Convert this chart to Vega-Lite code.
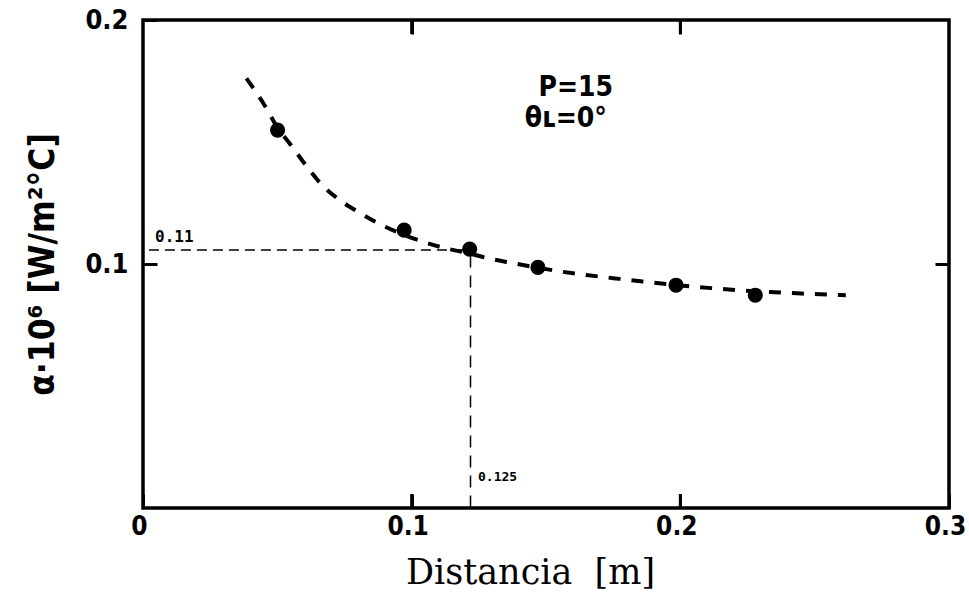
{
  "$schema": "https://vega.github.io/schema/vega-lite/v6.json",
  "width": 806,
  "height": 488,
  "autosize": "none",
  "padding": {"left": 143, "top": 20, "right": 20, "bottom": 105},
  "background": "white",
  "config": {
    "view": {"stroke": "black", "strokeWidth": 3.5},
    "axis": {"grid": false, "domain": false, "ticks": true, "tickColor": "black", "tickWidth": 3, "tickOpacity": 1, "labelColor": "black", "titleColor": "black"}
  },
  "datasets": {
    "curve": [
      {"x": 0.0385, "y": 0.1761}, {"x": 0.045, "y": 0.1655}, {"x": 0.050, "y": 0.1560},
      {"x": 0.055, "y": 0.1488}, {"x": 0.061, "y": 0.1399}, {"x": 0.066, "y": 0.1331},
      {"x": 0.072, "y": 0.1272}, {"x": 0.080, "y": 0.1214}, {"x": 0.087, "y": 0.1170},
      {"x": 0.097, "y": 0.1120}, {"x": 0.104, "y": 0.1092}, {"x": 0.112, "y": 0.1066},
      {"x": 0.122, "y": 0.1042}, {"x": 0.129, "y": 0.1022}, {"x": 0.137, "y": 0.1005},
      {"x": 0.147, "y": 0.0985}, {"x": 0.155, "y": 0.0970}, {"x": 0.165, "y": 0.0955},
      {"x": 0.175, "y": 0.0942}, {"x": 0.186, "y": 0.0928}, {"x": 0.198, "y": 0.0914},
      {"x": 0.206, "y": 0.0906}, {"x": 0.214, "y": 0.0899}, {"x": 0.221, "y": 0.0893},
      {"x": 0.228, "y": 0.0888}, {"x": 0.235, "y": 0.0884}, {"x": 0.245, "y": 0.0879},
      {"x": 0.2616, "y": 0.0872}
    ],
    "points": [
      {"x": 0.0501, "y": 0.1549}, {"x": 0.0972, "y": 0.1139}, {"x": 0.1216, "y": 0.1061},
      {"x": 0.1470, "y": 0.0986}, {"x": 0.1984, "y": 0.0913}, {"x": 0.2279, "y": 0.0872}
    ],
    "hguide": [{"x": 0.0022, "y": 0.1057}, {"x": 0.1219, "y": 0.1057}],
    "vguide": [{"x": 0.1219, "y": 0.1035}, {"x": 0.1219, "y": 0.0}],
    "labels": [
      {"x": 0.1611, "y": 0.1721, "t": "P=15"},
      {"x": 0.1574, "y": 0.1594, "t": "θʟ=0°"}
    ],
    "small1": [{"x": 0.0045, "y": 0.1109, "t": "0.11"}],
    "small2": [{"x": 0.1247, "y": 0.0129, "t": "0.125"}],
    "xticks": [{"x": 0.1, "y": 0}, {"x": 0.2, "y": 0}],
    "xticksTop": [{"x": 0.1, "y": 0.2}, {"x": 0.2, "y": 0.2}]
  },
  "layer": [
    {
      "data": {"name": "hguide"},
      "mark": {"type": "line", "color": "black", "strokeWidth": 1.5, "strokeDash": [10, 6]},
      "encoding": {
        "x": {"field": "x", "type": "quantitative", "scale": {"domain": [0, 0.3], "nice": false},
          "axis": {"orient": "bottom", "values": [0, 0.1, 0.2, 0.3], "format": "~g", "ticks": true, "tickSize": -14, "labelPadding": 19, "labelFlush": false, "labelOffset": -4,
            "labelFont": "DejaVu Sans Condensed", "labelFontWeight": "bold", "labelFontSize": 26,
            "title": "Distancia\u00a0\u00a0[m]", "titleFont": "DejaVu Serif", "titleFontWeight": "normal", "titleFontSize": 35, "titlePadding": 16, "titleX": 387}},
        "y": {"field": "y", "type": "quantitative", "scale": {"domain": [0, 0.2], "nice": false},
          "axis": {"orient": "left", "values": [0.1, 0.2], "format": "~g", "tickSize": -14, "labelPadding": 29, "labelFlush": false,
            "labelFont": "DejaVu Sans Condensed", "labelFontWeight": "bold", "labelFontSize": 27,
            "title": "α·10⁶ [W/m²°C]", "titleFont": "DejaVu Sans Condensed", "titleFontWeight": "bold", "titleFontSize": 35, "titlePadding": 24}}
      }
    },
    {
      "data": {"name": "hguide"},
      "mark": {"type": "line", "color": "black", "strokeWidth": 0},
      "encoding": {
        "x": {"field": "x", "type": "quantitative", "axis": {"orient": "top", "values": [0.1, 0.2], "ticks": true, "tickSize": -14, "labels": false, "title": null}},
        "y": {"field": "y", "type": "quantitative", "axis": {"orient": "right", "values": [0.1], "tickSize": -14, "labels": false, "title": null}}
      }
    },
    {
      "data": {"name": "xticks"},
      "mark": {"type": "tick", "orient": "vertical", "color": "black", "thickness": 3, "size": 14, "yOffset": -7, "opacity": 1},
      "encoding": {"x": {"field": "x", "type": "quantitative", "axis": null}, "y": {"field": "y", "type": "quantitative", "axis": null}}
    },
    {
      "data": {"name": "xticksTop"},
      "mark": {"type": "tick", "orient": "vertical", "color": "black", "thickness": 3, "size": 14, "yOffset": 7, "opacity": 1},
      "encoding": {"x": {"field": "x", "type": "quantitative", "axis": null}, "y": {"field": "y", "type": "quantitative", "axis": null}}
    },
    {
      "data": {"name": "vguide"},
      "mark": {"type": "line", "color": "black", "strokeWidth": 1.5, "strokeDash": [12, 8]},
      "encoding": {"x": {"field": "x", "type": "quantitative", "axis": null}, "y": {"field": "y", "type": "quantitative", "axis": null}}
    },
    {
      "data": {"name": "curve"},
      "mark": {"type": "line", "color": "black", "strokeWidth": 4, "strokeDash": [12, 11], "interpolate": "monotone"},
      "encoding": {"x": {"field": "x", "type": "quantitative", "axis": null}, "y": {"field": "y", "type": "quantitative", "axis": null}}
    },
    {
      "data": {"name": "points"},
      "mark": {"type": "circle", "color": "black", "opacity": 1, "size": 230},
      "encoding": {"x": {"field": "x", "type": "quantitative", "axis": null}, "y": {"field": "y", "type": "quantitative", "axis": null}}
    },
    {
      "data": {"name": "labels"},
      "mark": {"type": "text", "font": "DejaVu Sans Condensed", "fontWeight": "bold", "fontSize": 28, "align": "center", "baseline": "middle", "color": "black"},
      "encoding": {"x": {"field": "x", "type": "quantitative", "axis": null}, "y": {"field": "y", "type": "quantitative", "axis": null}, "text": {"field": "t"}}
    },
    {
      "data": {"name": "small1"},
      "mark": {"type": "text", "font": "DejaVu Sans Mono", "fontWeight": "bold", "fontSize": 16, "align": "left", "baseline": "middle", "color": "black"},
      "encoding": {"x": {"field": "x", "type": "quantitative", "axis": null}, "y": {"field": "y", "type": "quantitative", "axis": null}, "text": {"field": "t"}}
    },
    {
      "data": {"name": "small2"},
      "mark": {"type": "text", "font": "DejaVu Sans Mono", "fontWeight": "bold", "fontSize": 13, "align": "left", "baseline": "middle", "color": "black"},
      "encoding": {"x": {"field": "x", "type": "quantitative", "axis": null}, "y": {"field": "y", "type": "quantitative", "axis": null}, "text": {"field": "t"}}
    }
  ]
}
